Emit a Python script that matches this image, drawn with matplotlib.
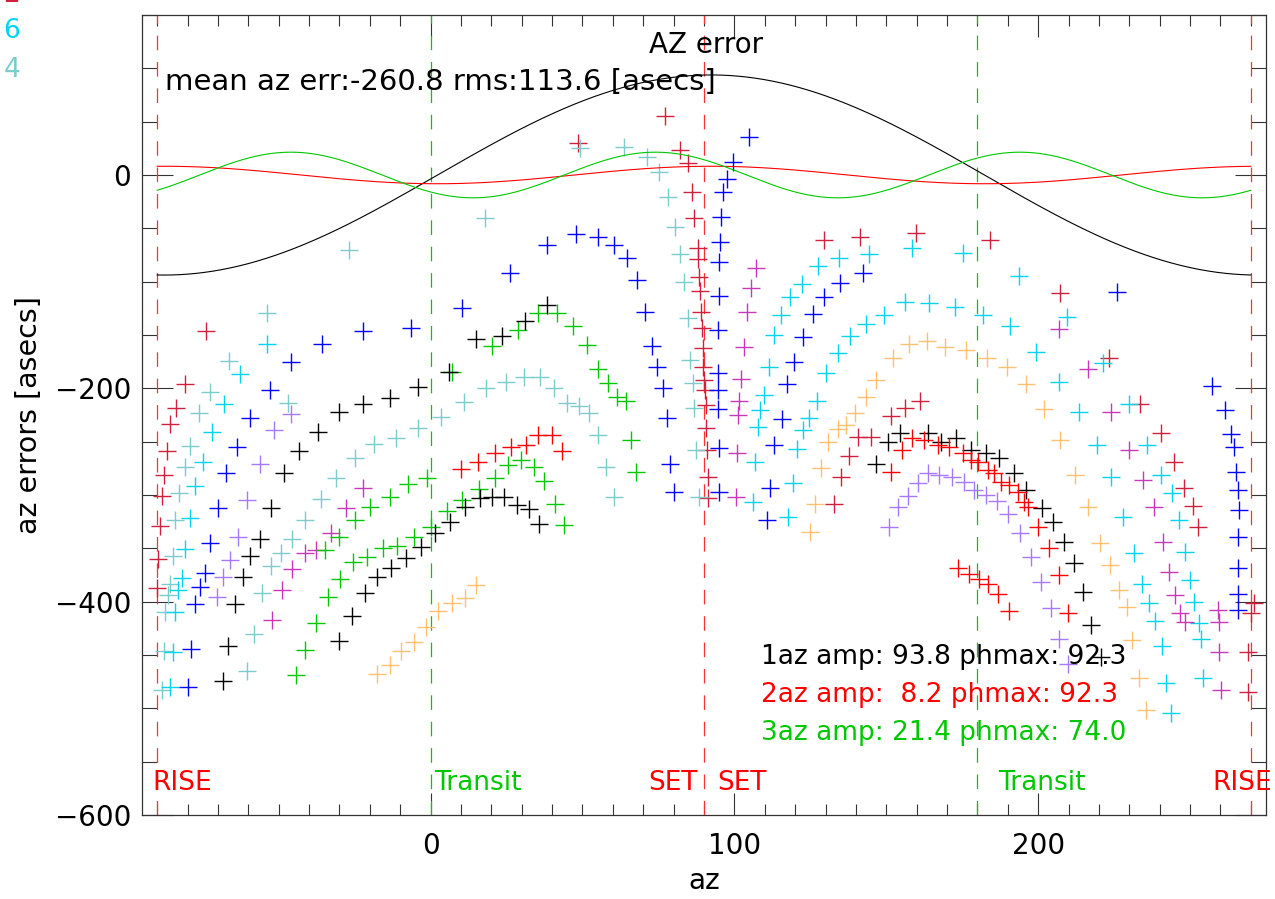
import numpy as np
import matplotlib.pyplot as plt

plt.rcParams['font.family'] = 'DejaVu Sans'
plt.rcParams['lines.scale_dashes'] = False

# harmonic fit shown on the plot
harm_n = [1, 2, 3]
harm_amp = [93.8, 8.2, 21.4]
harm_phmax = [92.3, 92.3, 74.0]
harm_col = ['black', '#ff0000', '#00c800']

mean_err = -260.8
rms_err = 113.6

# marker colours
c_crim = '#d0203c'
c_red = '#ff0000'
c_black = '#000000'
c_green = '#00c800'
c_blue = '#0000ff'
c_cyan = '#00d4f0'
c_teal = '#7ccccc'
c_purple = '#a878ff'
c_mag = '#c838b8'
c_orange = '#ffc070'

# data: (az, az error) per colour
crim_az = [-73.8, -80.7, -83.7, -85.7, -86.7, -87.6, -88.3, -89.0, -89.6, -90.0,
           77.1, 82.0, 84.7, 86.0, 86.7, 88.0, 88.0, 88.3, 88.6, 89.0,
           89.3, 89.6, 89.6, 90.0, 90.3, 90.6, 90.6, 90.9, 91.3, 91.3,
           48.4, 129.5, 141.4, 140.7, 145.0, 137.7, 135.1, 132.8,
           159.8, 184.2, 207.3, 223.4, 233.6, 240.5, 244.8, 248.1, 251.1, 252.7,
           151.6, 156.2, 161.1,
           271.2, 270.2, 269.2, 269.2]
crim_err = [-146, -196, -218, -233, -259, -281, -301, -329, -360, -387,
            55, 23, 11, -16, -40, -68, -79, -96, -109, -128,
            -143, -162, -180, -192, -202, -216, -237, -258, -283, -303,
            30, -61, -58, -246, -246, -263, -283, -308,
            -54, -61, -111, -172, -215, -242, -269, -293, -310, -330,
            -226, -218, -212,
            -401, -411, -447, -485]

red_az = [9.9, 15.5, 21.1, 26.4, 31.3, 35.3, 39.9, 43.2,
          151.6, 155.2, 158.5, 162.4, 167.1, 170.7, 175.3, 177.9, 180.2, 183.5,
          185.5, 187.8, 190.5, 193.4, 195.4, 196.7, 200.0, 203.6, 206.9, 209.9,
          173.6, 177.3, 180.6, 183.5, 186.8, 190.5]
red_err = [-276, -269, -261, -255, -253, -244, -244, -259,
           -278, -258, -247, -248, -253, -255, -261, -267, -269, -277,
           -279, -288, -291, -297, -307, -311, -330, -350, -375, -411,
           -368, -374, -379, -383, -393, -409]

black_az = [-68.2, -66.6, -64.3, -61.9, -59.3, -56.0, -52.4, -48.1, -43.2, -36.9,
            -30.0, -22.4, -13.5, -4.3, 5.9, 14.8, 23.4, 31.0, 38.2,
            -30.0, -26.0, -21.7, -17.5, -12.9, -8.2, -3.3, 1.6, 6.3, 11.2,
            16.1, 20.1, 24.1, 28.3, 32.3, 35.6,
            146.6, 150.6, 154.5, 163.8, 168.0, 173.0, 177.9, 182.9, 187.2,
            192.1, 196.0, 201.3, 205.0, 208.6, 211.9, 214.8, 217.5, 220.8]
black_err = [-474, -442, -402, -377, -357, -341, -312, -279, -259, -241,
             -222, -215, -209, -199, -185, -154, -151, -137, -122,
             -437, -413, -392, -377, -368, -359, -349, -336, -325, -311,
             -303, -302, -302, -309, -313, -327,
             -271, -250, -242, -242, -250, -247, -258, -261, -265,
             -279, -295, -312, -325, -344, -364, -391, -422, -452]

green_az = [6.9, 20.1, 28.7, 35.3, 41.5, 46.8, 51.4, 55.0, 58.3, 61.3, 64.3, 65.9, 67.5,
            -44.2, -41.2, -37.6, -33.9, -29.7, -25.4, -20.8, -15.8, -10.9, -5.3, 0.0,
            5.3, 10.5, 15.8, 21.1, 25.4, 29.7, 33.9, 37.2, 40.9, 43.8,
            -34.6, -30.0, -25.0, -19.8, -13.5, -7.6, -1.3]
green_err = [-185, -160, -145, -129, -129, -142, -159, -182, -195, -208, -212, -248, -278,
             -469, -445, -420, -396, -379, -363, -358, -350, -348, -339, -330,
             -315, -305, -294, -284, -272, -267, -274, -287, -308, -328,
             -352, -339, -323, -311, -302, -290, -284]

blue_az = [-79.7, -78.8, -77.4, -75.8, -74.1, -72.5, -69.9, -67.2, -63.6, -59.3,
           -53.0, -45.8, -35.6, -22.4, -6.6, 10.2, 26.0, 38.2, 47.8, 55.0,
           60.3, 64.6, 67.9, 70.5, 72.8, 74.5, 76.4, 77.8, 78.8, 80.1,
           104.8, 99.5, 97.5, 96.2, 95.6, 95.2, 94.9, 94.9, 94.6, 94.6, 94.6, 94.6, 94.9, 94.9,
           110.7, 111.7, 113.0, 115.7, 117.3, 119.6, 122.6, 125.9, 129.5, 134.8, 142.3, 226.0,
           257.3, 261.6, 263.6, 264.6, 265.2, 265.9, 266.2, 265.9, 265.9, 265.9, 265.9]
blue_err = [-480, -444, -402, -386, -373, -345, -312, -279, -255, -228,
            -202, -175, -158, -146, -143, -125, -92, -66, -55, -58,
            -66, -78, -98, -128, -160, -180, -200, -228, -271, -297,
            36, 12, -4, -16, -39, -63, -82, -113, -145, -186, -202, -219, -256, -297,
            -323, -293, -253, -229, -196, -175, -152, -130, -114, -101, -92, -110,
            -198, -220, -243, -255, -278, -295, -314, -339, -368, -393, -408]

cyan_az = [-85.7, -84.7, -84.0, -83.0, -81.7, -80.7, -79.1, -77.4, -74.8, -71.8, -67.9, -62.6, -54.0,
           106.1, 106.8, 107.7, 108.4, 109.7, 111.4, 113.0, 115.3, 118.3, 122.2,
           127.5, 134.4, 144.3, 158.5, 175.3, 193.7, 209.6, 221.4, 230.0, 235.9,
           240.5, 244.2, 246.5, 248.4, 250.1, 251.4, 253.0, 253.7, 254.4,
           117.6, 119.3, 120.6, 122.6, 124.5, 127.2, 130.1, 134.1, 138.1, 143.3,
           149.3, 156.2, 164.1, 172.7, 181.9, 190.8, 199.3, 206.9, 213.5, 219.4,
           224.1, 228.0, 231.6, 234.3, 236.6, 238.6, 240.9, 242.2, 243.8]
cyan_err = [-480, -447, -410, -389, -378, -351, -322, -292, -269, -241, -215, -187, -158,
            -307, -269, -236, -220, -206, -180, -150, -131, -114, -102,
            -85, -78, -74, -68, -73, -95, -133, -176, -215, -253,
            -281, -298, -323, -353, -380, -400, -420, -435, -472,
            -321, -289, -257, -239, -228, -212, -186, -167, -151, -140,
            -131, -119, -120, -124, -131, -142, -166, -194, -222, -253,
            -283, -321, -354, -383, -401, -418, -442, -476, -504]

teal_az = [-88.3, -87.6, -87.3, -86.3, -85.7, -84.7, -84.0, -82.7, -80.7, -79.1,
           -76.1, -72.5, -66.2, -54.0, -27.0, 17.8,
           -60.3, -58.0, -55.4, -52.4, -49.4, -45.5, -41.2, -36.2, -31.3, -25.0,
           -18.5, -11.5, -4.3, 3.3, 10.9, 18.1, 24.7, 30.6, 35.9, 40.5,
           44.8, 48.8, 52.1, 55.0, 57.7, 60.3, -46.8,
           49.1, 63.6, 71.2, 75.1, 78.1, 80.4, 82.0, 83.4, 84.7, 85.3, 86.3, 86.7, 87.3, 88.3]
teal_err = [-483, -446, -410, -394, -383, -357, -323, -298, -274, -254,
            -223, -203, -174, -129, -70, -40,
            -465, -430, -392, -367, -354, -341, -323, -304, -284, -265,
            -252, -247, -237, -227, -213, -200, -194, -189, -189, -200,
            -214, -217, -223, -244, -274, -302, -214,
            25, 26, 17, 3, -21, -49, -74, -100, -134, -173, -195, -218, -258, -302]

purple_az = [-70.2, -68.2, -65.9, -63.3, -60.3, -56.3, -51.7, -46.1,
             150.9, 153.9, 157.2, 160.5, 163.8, 167.4, 171.7, 175.6, 178.9,
             182.9, 186.5, 190.1, 194.1, 197.7, 201.0, 204.3, 206.9, 209.9]
purple_err = [-396, -377, -361, -339, -305, -271, -239, -224,
              -330, -311, -301, -289, -279, -281, -283, -288, -295,
              -300, -306, -318, -336, -358, -382, -406, -435, -458]

mag_az = [-52.1, -48.8, -45.5, -41.5, -37.6, -32.9, -27.7, -22.1,
          100.5, 100.8, 101.2, 101.5, 102.1, 103.1, 104.1, 105.4, 107.1,
          206.9, 216.5, 224.1, 230.0, 234.6, 238.2, 241.2, 243.2, 245.1,
          246.8, 248.4, 259.3, 259.6, 259.6, 260.3]
mag_err = [-417, -389, -369, -354, -352, -336, -312, -293,
           -302, -261, -225, -212, -191, -161, -128, -106, -87,
           -144, -182, -222, -258, -286, -311, -344, -372, -394,
           -411, -419, -408, -419, -447, -483]

orange_az = [-17.8, -13.5, -9.9, -5.6, -1.6, 2.6, 6.9, 11.2, 14.8,
             124.9, 126.5, 128.5, 130.8, 134.1, 136.7, 139.7, 143.3, 146.6, 152.2,
             157.5, 163.4, 169.4, 176.3, 183.2, 189.8, 196.0, 202.0, 207.2, 212.2,
             216.5, 220.4, 223.7, 226.7, 229.3, 231.0, 233.3, 235.6]
orange_err = [-468, -459, -446, -438, -424, -409, -401, -397, -384,
              -335, -308, -275, -250, -238, -234, -223, -208, -192, -172,
              -158, -156, -161, -164, -172, -180, -196, -219, -248, -281,
              -311, -345, -366, -389, -405, -436, -472, -502]

series = [(crim_az, crim_err, c_crim), (teal_az, teal_err, c_teal),
          (cyan_az, cyan_err, c_cyan), (blue_az, blue_err, c_blue),
          (purple_az, purple_err, c_purple), (mag_az, mag_err, c_mag),
          (orange_az, orange_err, c_orange), (green_az, green_err, c_green),
          (black_az, black_err, c_black), (red_az, red_err, c_red)]

# event markers
rise_az = [-90, 270]
set_az = [90]
transit_az = [0, 180]

fig = plt.figure(figsize=(12.75, 8.99), dpi=100)
ax = fig.add_axes([142/1275, 84/899, 1124/1275, 800/899])

for xs, ys, col in series:
    ax.scatter(xs, ys, marker='+', s=150, linewidths=1.0, color=col, zorder=3)

#fit curves
azc = np.linspace(-90, 270, 721)
for n, amp, ph, col in zip(harm_n, harm_amp, harm_phmax, harm_col):
    ax.plot(azc, amp*np.cos(np.radians(n*(azc - ph))), color=col, lw=0.8, zorder=4)

for x in rise_az + set_az:
    ax.axvline(x, color='#ff3030', lw=0.9, dashes=(10.5, 8.5), zorder=2)
for x in transit_az:
    ax.axvline(x, color='#00c800', lw=0.9, dashes=(10.5, 8.5), zorder=2)

fs = 19
ax.text(90.6, 122, 'AZ error', ha='center', va='center', fontsize=20)
ax.text(-87.3, 87, 'mean az err:%.1f rms:%.1f [asecs]' % (mean_err, rms_err),
        ha='left', va='center', fontsize=21)
for i in range(3):
    ax.text(108.7, -452 - 35.6*i,
            '%daz amp: %4.1f phmax: %4.1f' % (harm_n[i], harm_amp[i], harm_phmax[i]),
            ha='left', va='center', fontsize=fs, color=harm_col[i], zorder=5)

yl = -570
ax.text(-91.6, yl, 'RISE', color='#ff0000', fontsize=fs, va='center', ha='left')
ax.text(1.3, yl, 'Transit', color='#00c800', fontsize=fs, va='center', ha='left')
ax.text(88.0, yl, 'SET', color='#ff0000', fontsize=fs, va='center', ha='right')
ax.text(94.2, yl, 'SET', color='#ff0000', fontsize=fs, va='center', ha='left')
ax.text(186.8, yl, 'Transit', color='#00c800', fontsize=fs, va='center', ha='left')
ax.text(257.4, yl, 'RISE', color='#ff0000', fontsize=fs, va='center', ha='left',
        clip_on=False)

ax.set_xlim(-95, 275)
ax.set_ylim(-600, 150)
ax.set_xticks([0, 100, 200])
ax.set_xticks(np.arange(-90, 271, 10), minor=True)
ax.set_yticks([-600, -400, -200, 0])
ax.set_yticks(np.arange(-600, 151, 50), minor=True)
ax.tick_params(axis='both', which='both', direction='in', top=True, right=True,
               labelsize=20, width=0.8, color='#333333')
ax.tick_params(axis='x', which='major', length=16, pad=12)
ax.tick_params(axis='x', which='minor', length=8)
ax.tick_params(axis='y', which='major', length=22, pad=8)
ax.tick_params(axis='y', which='minor', length=11)
for sp in ax.spines.values():
    sp.set_linewidth(0.9)
    sp.set_color('#333333')

ax.set_xlabel('az', fontsize=20, labelpad=5)
ax.set_ylabel('az errors [asecs]', fontsize=20.5, labelpad=8)

# clipped legend entries at the left edge
fig.text(20/1275, 1 - 2/899, '2', color='#d0203c', fontsize=19, ha='right', va='baseline')
fig.text(20/1275, 1 - 38/899, '6', color='#00d4f0', fontsize=19, ha='right', va='baseline')
fig.text(20/1275, 1 - 77/899, '4', color='#7ccccc', fontsize=19, ha='right', va='baseline')

fig.savefig('out.png', dpi=100)
